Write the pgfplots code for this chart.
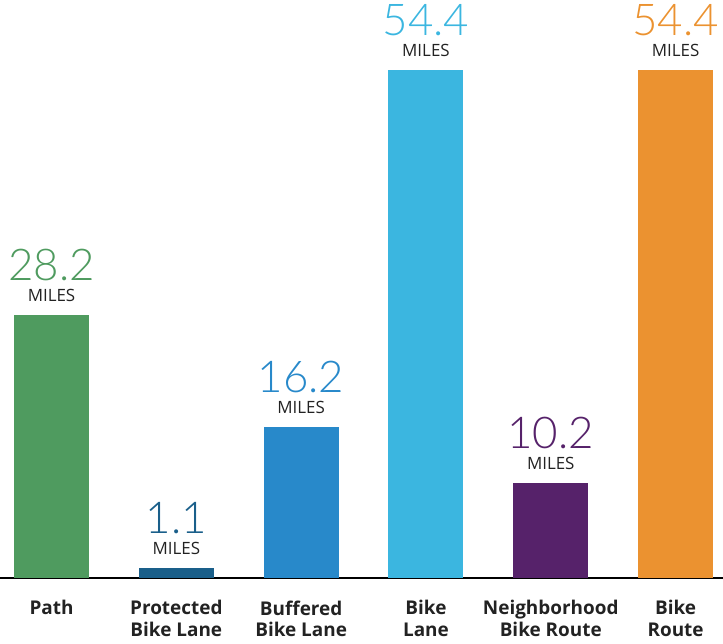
\documentclass[border=0pt]{standalone}
\usepackage{pgfplots}
\pgfplotsset{compat=1.18}
\usepackage{fontspec}
\setmainfont{Open Sans}
\IfFontExistsTF{Lato Light}{\newfontfamily\thin{Lato Light}}{\newfontfamily\thin{Lato}}
\IfFontExistsTF{Open Sans SemiBold}{\newfontfamily\semi{Open Sans SemiBold}}{\newcommand\semi{\bfseries}}
\definecolor{cpath}{HTML}{4F9B5F}
\definecolor{cprot}{HTML}{1A5F8A}
\definecolor{cbuf}{HTML}{2889CA}
\definecolor{clane}{HTML}{3BB6E0}
\definecolor{cneigh}{HTML}{56226A}
\definecolor{croute}{HTML}{EB9230}
\definecolor{txt}{HTML}{222222}
\begin{document}
\begin{tikzpicture}
\begin{axis}[
  at={(0,0)}, anchor=south west,
  scale only axis, width=723bp, height=578bp,
  xmin=-0.4127, xmax=5.38, ymin=0, ymax=61.9,
  axis x line*=bottom, axis y line=none,
  x axis line style={black, line width=2.2bp, -},
  ybar, bar width=75bp, bar shift=0pt,
  xtick={0,1,2,3,4,5},
  xticklabels={Path, Protected\\Bike Lane, Buffered\\Bike Lane, Bike\\Lane, Neighborhood\\Bike Route, Bike\\Route},
  major tick length=0pt,
  xticklabel style={align=center, font=\fontsize{19}{22}\selectfont\semi, text=txt, yshift=-19bp},
  ytick=\empty,
  clip=false,
  /pgf/number format/assume math mode=true,
  nodes near coords={{\thin\fontsize{44}{21}\selectfont\pgfmathprintnumber[fixed,precision=1,fixed zerofill,assume math mode=true]{\pgfplotspointmeta}}\\{\color{txt}MILES}},
  every node near coord/.style={align=center, anchor=south, inner sep=0pt, yshift=13bp, font=\fontsize{17}{21}\selectfont},
]
\addplot[fill=cpath, draw=none, every node near coord/.append style={text=cpath}] coordinates {(0,28.2)};
\addplot[fill=cprot, draw=none, every node near coord/.append style={text=cprot}] coordinates {(1,1.1)};
\addplot[fill=cbuf, draw=none, every node near coord/.append style={text=cbuf}] coordinates {(2,16.2)};
\addplot[fill=clane, draw=none, every node near coord/.append style={text=clane}] coordinates {(3,54.4)};
\addplot[fill=cneigh, draw=none, every node near coord/.append style={text=cneigh}] coordinates {(4,10.2)};
\addplot[fill=croute, draw=none, every node near coord/.append style={text=croute}] coordinates {(5,54.4)};
\end{axis}
\pgfresetboundingbox
\path (0,-66bp) rectangle (723bp,578bp);
\end{tikzpicture}
\end{document}
